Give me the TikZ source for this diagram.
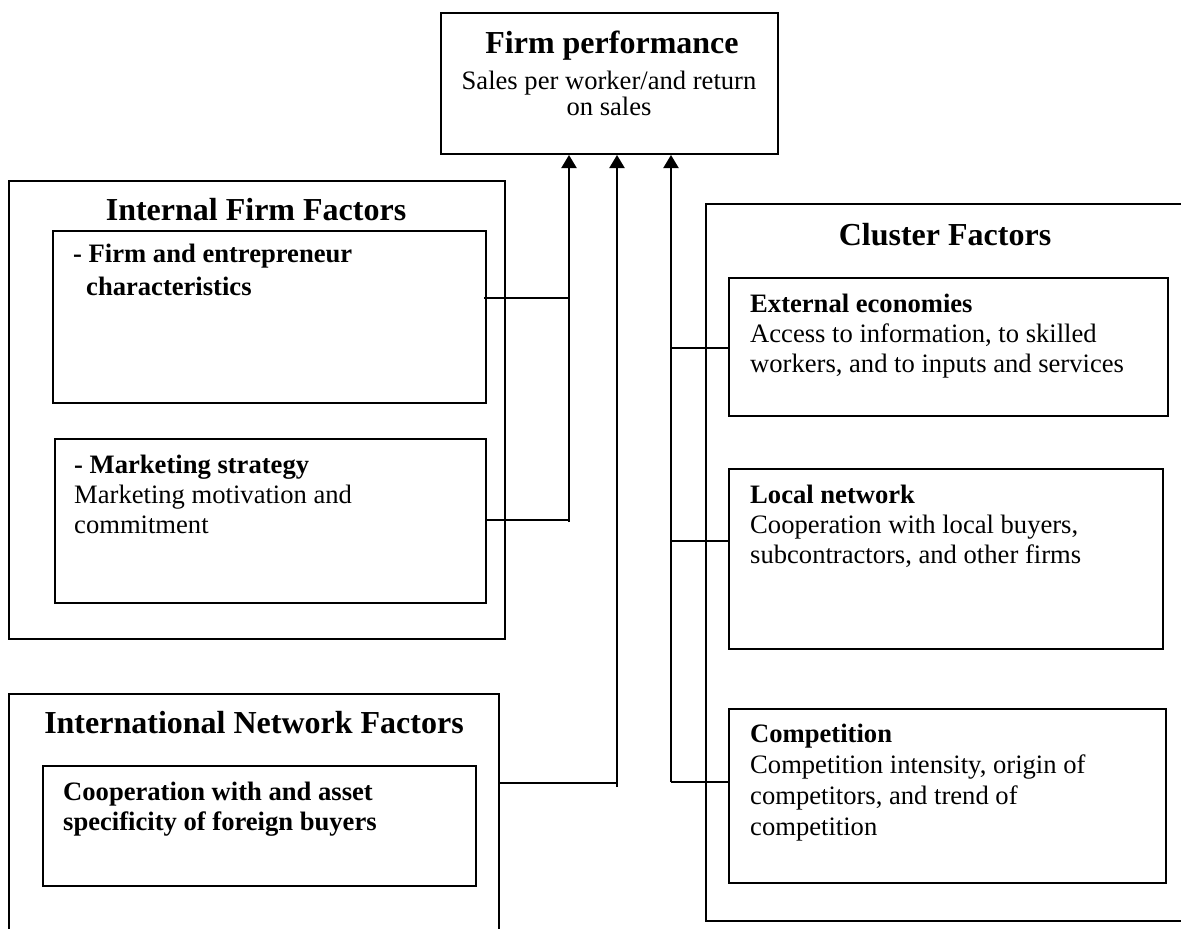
\documentclass[tikz,border=0pt]{standalone}
\usepackage{fontspec}
\setmainfont{Liberation Serif}
\usetikzlibrary{arrows.meta}

\newcommand{\headfont}{\fontsize{32}{36}\selectfont\bfseries}
\newcommand{\bodyfont}{\fontsize{26.6}{30}\selectfont}

% multi-line text nodes are anchored at the baseline of their last line
\tikzset{
  frame/.style={draw, line width=2pt, inner sep=0pt, anchor=north west},
  head/.style={inner sep=0pt, anchor=base, font=\headfont},
  body/.style={inner sep=0pt, anchor=base west, align=left, font=\bodyfont},
  link/.style={line width=2pt},
  feed/.style={line width=2pt, -{Triangle[width=15pt,length=13pt]}}
}

\begin{document}
\begin{tikzpicture}[x=1pt,y=-1pt]
\useasboundingbox (0,0) rectangle (1181,929);
\clip (0,0) rectangle (1181,929);

% outcome box
\node[frame, minimum width=337pt, minimum height=141pt] (fp) at (440,12) {};
\node[head] (fptitle) at (612,53) {Firm performance};
\node[inner sep=0pt, anchor=base, align=center, font=\fontsize{26.6}{26}\selectfont] (fptext) at (609,115)
  {Sales per worker/and return\\on sales};

% internal firm factors
\node[frame, minimum width=496pt, minimum height=458pt] (intf) at (8,180) {};
\node[head] (intftitle) at (256,220) {Internal Firm Factors};
\node[frame, minimum width=433pt, minimum height=172pt] (ib1) at (52,230) {};
\node[body, font=\fontsize{26.6}{33}\selectfont\bfseries] (ib1text) at (73,295)
  {- Firm and entrepreneur\\\hspace*{13pt}characteristics};
\node[frame, minimum width=431pt, minimum height=164pt] (ib2) at (54,438) {};
\node[body] (ib2text) at (74,533)
  {\textbf{- Marketing strategy}\\Marketing motivation and\\commitment};

% international network factors
\node[frame, minimum width=490pt, minimum height=320pt] (intl) at (8,693) {};
\node[head] (intltitle) at (254,733) {International Network Factors};
\node[frame, minimum width=433pt, minimum height=120pt] (inb) at (42,765) {};
\node[body, font=\bodyfont\bfseries] (inbtext) at (63,830)
  {Cooperation with and asset\\specificity of foreign buyers};

% cluster factors
\node[frame, minimum width=600pt, minimum height=717pt] (clu) at (705,203) {};
\node[head] (clutitle) at (945,245) {Cluster Factors};
\node[frame, minimum width=439pt, minimum height=138pt] (ext) at (728,277) {};
\node[body] (exttext) at (750,372)
  {\textbf{External economies}\\Access to information, to skilled\\workers, and to inputs and services};
\node[frame, minimum width=434pt, minimum height=180pt] (loc) at (728,468) {};
\node[body] (loctext) at (750,563)
  {\textbf{Local network}\\Cooperation with local buyers,\\subcontractors, and other firms};
\node[frame, minimum width=437pt, minimum height=174pt] (comp) at (728,708) {};
\node[body, font=\fontsize{26.6}{30.7}\selectfont] (comptext) at (750,835)
  {\textbf{Competition}\\Competition intensity, origin of\\competitors, and trend of\\competition};

% junction points of the connectors
\coordinate (ja) at (569,298);
\coordinate (jb) at (569,520);
\coordinate (jbend) at (569,522);
\coordinate (jc) at (617,783);
\coordinate (jcend) at (617,787);
\coordinate (jd1) at (671,348);
\coordinate (jd2) at (671,541);
\coordinate (jd3) at (671,782);

% internal factors feed
\draw[link] ([xshift=-3pt]ib1.east |- ja) -- (ja);
\draw[link] ([xshift=-2pt]ib2.east |- jb) -- (jb);
\draw[feed] (jbend) -- (jbend |- fp.south);

% international factors feed
\draw[link] ([xshift=-2pt]intl.east |- jc) -- (jc);
\draw[feed] (jcend) -- (jcend |- fp.south);

% cluster factors feed
\draw[link] (jd1) -- (ext.west |- jd1);
\draw[link] (jd2) -- (loc.west |- jd2);
\draw[link] (jd3) -- (comp.west |- jd3);
\draw[feed] (jd3) -- (jd3 |- fp.south);
\end{tikzpicture}
\end{document}
